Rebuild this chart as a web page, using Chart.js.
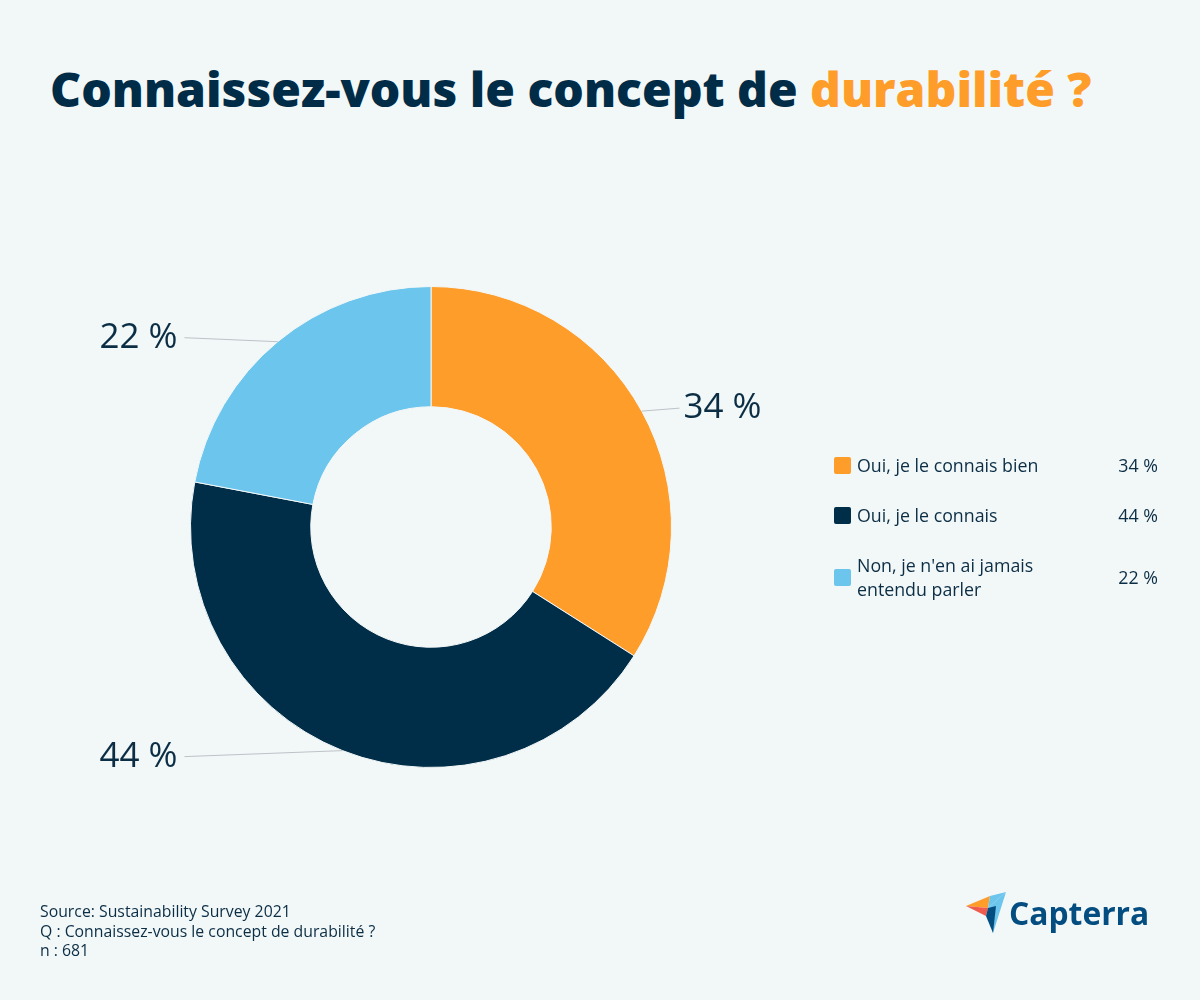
<!DOCTYPE html>
<html lang="fr">
<head>
<meta charset="utf-8">
<script src="https://cdn.jsdelivr.net/npm/chart.js@4/dist/chart.umd.min.js"></script>
<style>
  html, body { margin: 0; padding: 0; }
  body {
    width: 1200px; height: 1000px; position: relative; overflow: hidden;
    background: #f2f7f8; font-family: "Open Sans", "Noto Sans", sans-serif; color: #0b2e45;
  }
  h1 {
    position: absolute; left: 50px; top: 56px; margin: 0;
    font-size: 48px; font-weight: 800; color: #002c47;
  }
  h1 span { color: #ff9d2a; }
  #wrap { position: absolute; left: 0; top: 0; width: 1200px; height: 1000px; }
  #legend { position: absolute; left: 834px; top: 453px; width: 324px; }
  .item { display: flex; align-items: center; font-size: 17.8px; line-height: 24px; margin-bottom: 26px; }
  .box { width: 17px; height: 17px; border-radius: 2px; margin-right: 6px; flex: none; }
  .lbl { flex: 1; }
  .val { text-align: right; }
  #foot { position: absolute; left: 40px; top: 902px; font-size: 15.8px; line-height: 19.5px; color: #0b2e45; }
  #logo { position: absolute; left: 966px; top: 890px; }
</style>
</head>
<body>
<h1>Connaissez-vous le concept de <span>durabilité ?</span></h1>
<div id="wrap"><canvas id="donut"></canvas></div>
<div id="legend"></div>
<div id="foot">Source: Sustainability Survey 2021<br>Q : Connaissez-vous le concept de durabilité ?<br>n : 681</div>
<svg id="logo" width="190" height="46" viewBox="0 0 190 46">
  <polygon points="0,16 24,6 22,18" fill="#ff9d2a"/>
  <polygon points="0,16 22,18 20,26" fill="#ef5b4c"/>
  <polygon points="24,6 40,2 22,18" fill="#6bc5ec"/>
  <polygon points="22,18 40,2 27,43" fill="#6bc5ec"/>
  <polygon points="22,18 30,16 27,43 20,26" fill="#044d80"/>
  <text x="43" y="35" font-family="Open Sans, sans-serif" font-weight="700" font-size="31.8" fill="#044d80">Capterra</text>
</svg>
<script>
var answers = ["Oui, je le connais bien", "Oui, je le connais", "Non, je n'en ai jamais entendu parler"];
var shares = [34, 44, 22];
var sliceColors = ["#ff9d2a", "#002d47", "#6bc5ec"];

// legend built from the same arrays
var legendHtml = "";
for (var i = 0; i < answers.length; i++) {
  var txt = answers[i] === "Non, je n'en ai jamais entendu parler" ? "Non, je n'en ai jamais<br>entendu parler" : answers[i];
  legendHtml += '<div class="item"><div class="box" style="background:' + sliceColors[i] + '"></div>' +
    '<div class="lbl">' + txt + '</div><div class="val">' + shares[i] + ' %</div></div>';
}
document.getElementById("legend").innerHTML = legendHtml;

// outside labels with leader lines
var outLabels = {
  id: 'outLabels',
  afterDatasetsDraw: function (chart) {
    var ctx = chart.ctx;
    var meta = chart.getDatasetMeta(0);
    ctx.save();
    meta.data.forEach(function (arc, i) {
      var mid = (arc.startAngle + arc.endAngle) / 2;
      var px = arc.x + Math.cos(mid) * arc.outerRadius;
      var py = arc.y + Math.sin(mid) * arc.outerRadius;
      var right = Math.cos(mid) > 0;
      var ex = right ? arc.x + arc.outerRadius + 8 : arc.x - arc.outerRadius - 6;
      var ey = py + (right ? -3 : (Math.sin(mid) > 0 ? 6 : -4));
      ctx.strokeStyle = '#bcc3c7';
      ctx.lineWidth = 1;
      ctx.beginPath();
      ctx.moveTo(px, py);
      ctx.lineTo(ex, ey);
      ctx.stroke();
      ctx.fillStyle = '#0b2e45';
      ctx.font = '35px "Open Sans", sans-serif';
      ctx.textBaseline = 'middle';
      ctx.textAlign = right ? 'left' : 'right';
      ctx.fillText(shares[i] + ' %', right ? ex + 4 : ex - 7, ey);
    });
    ctx.restore();
  }
};

new Chart(document.getElementById("donut"), {
  type: 'doughnut',
  data: {
    labels: answers,
    datasets: [{
      data: shares,
      backgroundColor: sliceColors,
      borderColor: '#f2f7f8',
      borderWidth: 1
    }]
  },
  options: {
    responsive: true,
    maintainAspectRatio: false,
    animation: false,
    cutout: '50%',
    layout: { padding: { left: 190, right: 528, top: 286, bottom: 232 } },
    plugins: {
      legend: { display: false },
      tooltip: { enabled: false }
    }
  },
  plugins: [outLabels]
});
</script>
</body>
</html>
